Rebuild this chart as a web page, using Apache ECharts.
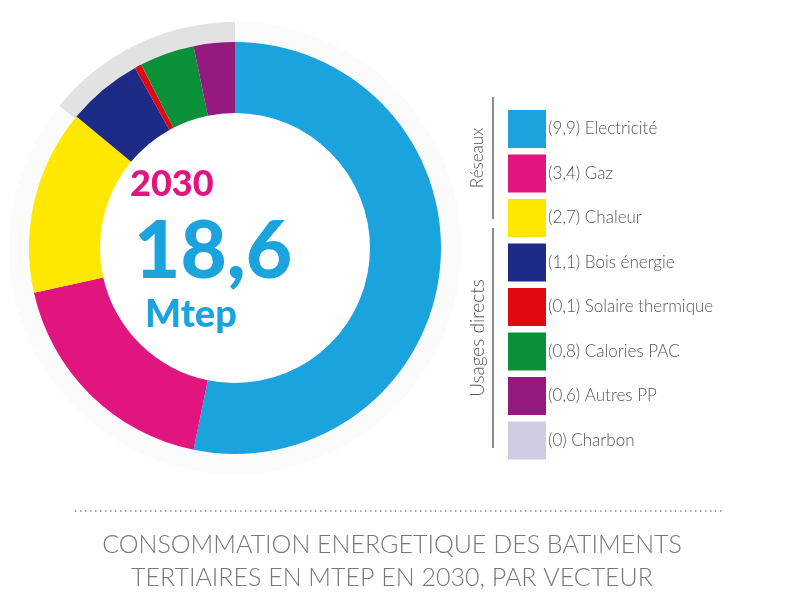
<!DOCTYPE html><html><head><meta charset="utf-8"><script src="https://cdn.jsdelivr.net/npm/echarts@6/dist/echarts.min.js"></script>
<style>body{margin:0}#c{width:800px;height:600px}</style></head><body><div id="c"></div><script>
const categories=['Electricité','Gaz','Chaleur','Bois énergie','Solaire thermique','Calories PAC','Autres PP','Charbon'];
const values=[9.9,3.4,2.7,1.1,0.1,0.8,0.6,0];
const colors=['#1aa3dd','#e0157f','#ffe800','#1d2a86','#e30613','#09913a','#941a7f','#d0cde3'];
const total='18,6';
const fmt=v=>String(v).replace('.',',');
const chart=echarts.init(document.getElementById('c'));
const F='Lato, "Open Sans", sans-serif';
chart.setOption({
 animation:false,
 legend:{orient:'vertical',left:503,top:105,itemWidth:38,itemHeight:38,itemGap:6.5,icon:'rect',selectedMode:false,
  data:categories,
  formatter:n=>'('+fmt(values[categories.indexOf(n)])+') '+n,
  textStyle:{fontFamily:F,fontWeight:300,fontSize:17,color:'#555',padding:[0,0,0,-3]}},
 series:[
  {type:'pie',silent:true,center:[235,248],radius:[205,226],startAngle:90,label:{show:false},z:1,
   data:[{value:309,itemStyle:{color:'#fbfbfb'}},{value:51,itemStyle:{color:'#e2e2e2'}}]},
  {type:'pie',center:[235,248],radius:[135,206],startAngle:90,clockwise:true,label:{show:false},labelLine:{show:false},z:2,
   data:categories.map((c,i)=>({name:c,value:values[i],itemStyle:{color:colors[i]}}))}
 ],
 color:colors,
 graphic:[
  {type:'text',left:130,top:166,style:{text:'2030',font:'900 36px '+F,fill:'#e0157f'}},
  {type:'text',left:134,top:212,style:{text:total,font:'900 80px '+F,fill:'#1aa3dd'}},
  {type:'text',left:145,top:296,style:{text:'Mtep',font:'900 38px '+F,fill:'#1aa3dd'}},
  {type:'line',shape:{x1:493,y1:97,x2:493,y2:219},style:{stroke:'#666',lineWidth:1.5}},
  {type:'line',shape:{x1:493,y1:228,x2:493,y2:448},style:{stroke:'#666',lineWidth:1.5}},
  {type:'text',x:478,y:158,rotation:Math.PI/2,style:{text:'Réseaux',font:'300 17px '+F,fill:'#555',align:'center',verticalAlign:'middle'}},
  {type:'text',x:478,y:338,rotation:Math.PI/2,style:{text:'Usages directs',font:'300 19px '+F,fill:'#555',align:'center',verticalAlign:'middle'}},
  {type:'line',shape:{x1:75,y1:511,x2:722,y2:511},style:{stroke:'#888',lineWidth:1.5,lineDash:[1.5,3.5]}},
  {type:'text',x:392,y:545,style:{text:'CONSOMMATION ENERGETIQUE DES BATIMENTS',font:'300 25px '+F,fill:'#777',align:'center',verticalAlign:'middle'}},
  {type:'text',x:392,y:578,style:{text:'TERTIAIRES EN MTEP EN 2030, PAR VECTEUR',font:'300 25px '+F,fill:'#777',align:'center',verticalAlign:'middle'}}
 ]
});
</script></body></html>
